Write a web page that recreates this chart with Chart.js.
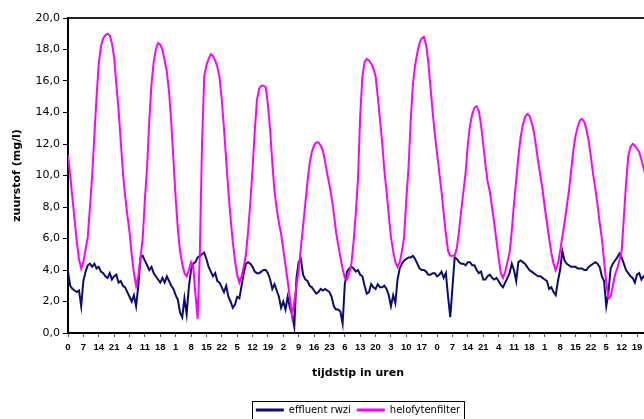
<!DOCTYPE html>
<html>
<head>
<meta charset="utf-8">
<script src="https://cdn.jsdelivr.net/npm/chart.js@4.4.1/dist/chart.umd.min.js"></script>
<style>
  html, body { margin: 0; padding: 0; background: #fff; overflow: hidden; }
  #wrap { position: relative; width: 648px; height: 425px; }
</style>
</head>
<body>
<div id="wrap"><canvas id="c"></canvas></div>
<script>
// hourly measurements, hour 0 .. 264
const effluentRwzi = [
  3.9,3.0,2.8,2.7,2.6,2.7,1.7,3.3,3.9,4.3,4.4,4.2,
  4.4,4.1,4.2,3.9,3.8,3.6,3.5,3.8,3.4,3.6,3.7,3.2,
  3.3,3.0,2.9,2.6,2.3,2.0,2.4,1.7,3.0,4.8,4.9,4.6,
  4.3,4.0,4.2,3.8,3.6,3.4,3.2,3.5,3.2,3.6,3.3,3.0,
  2.8,2.4,2.1,1.3,1.0,2.2,1.2,2.9,4.0,4.4,4.5,4.8,
  4.9,5.0,5.1,4.7,4.2,3.9,3.6,3.8,3.3,3.2,2.9,2.6,
  3.0,2.3,2.0,1.6,1.8,2.3,2.2,3.0,3.8,4.4,4.5,4.4,
  4.2,3.9,3.8,3.8,3.9,4.0,4.0,3.8,3.4,2.8,3.1,2.7,
  2.3,1.6,2.0,1.5,2.3,1.6,1.2,0.4,3.5,4.5,4.7,3.7,
  3.4,3.3,3.0,2.9,2.7,2.5,2.6,2.8,2.7,2.8,2.7,2.6,
  2.3,1.7,1.5,1.5,1.35,0.6,3.1,3.9,4.1,4.2,4.1,3.9,
  4.0,3.7,3.6,3.0,2.5,2.6,3.1,2.9,2.8,3.1,2.9,2.9,
  3.0,2.8,2.4,1.7,2.4,1.9,3.4,4.1,4.4,4.6,4.7,4.8,
  4.8,4.9,4.7,4.4,4.1,4.0,4.0,3.9,3.7,3.7,3.8,3.8,
  3.6,3.7,3.9,3.5,3.8,2.3,1.0,2.9,4.8,4.7,4.5,4.4,
  4.4,4.3,4.5,4.5,4.3,4.3,4.0,3.8,3.9,3.4,3.4,3.6,
  3.7,3.5,3.4,3.5,3.3,3.05,2.9,3.2,3.5,3.8,4.4,4.0,
  3.3,4.5,4.6,4.5,4.4,4.2,4.0,3.9,3.8,3.7,3.6,3.6,
  3.5,3.4,3.3,2.8,2.9,2.6,2.4,3.3,4.0,5.2,4.6,4.4,
  4.3,4.2,4.2,4.2,4.1,4.1,4.1,4.0,4.0,4.2,4.3,4.4,
  4.5,4.4,4.2,3.6,3.3,1.7,2.6,4.1,4.4,4.6,4.8,5.05,
  4.8,4.4,4.0,3.8,3.6,3.5,3.2,3.7,3.8,3.4,3.6,3.7,3.5
];
const helofytenfilter = [
  11.3,10.0,8.6,7.2,5.8,4.7,4.1,4.5,5.3,6.1,8.0,10.0,
  12.5,15.0,17.1,18.2,18.7,18.9,19.0,18.9,18.4,17.5,15.8,14.2,
  12.2,10.2,8.7,7.5,6.4,5.0,3.8,3.0,3.6,4.8,6.0,8.5,
  10.5,13.5,15.8,17.2,18.0,18.4,18.3,18.0,17.3,16.6,15.3,13.4,
  11.0,8.6,6.6,5.2,4.4,3.8,3.6,4.0,4.5,4.2,2.5,0.9,
  5.0,12.0,16.3,17.0,17.4,17.7,17.6,17.3,16.9,16.2,14.8,13.0,
  11.0,9.0,7.3,5.8,4.6,3.7,3.2,3.6,4.2,5.0,6.5,8.3,
  10.4,12.8,14.8,15.5,15.7,15.7,15.6,14.5,12.9,10.8,9.0,7.9,
  7.0,6.3,5.3,4.3,3.3,2.2,1.1,2.0,3.0,4.0,5.4,6.8,
  8.2,9.6,10.8,11.5,11.9,12.1,12.1,11.9,11.6,10.9,10.1,9.4,
  8.6,7.6,6.4,5.6,4.8,4.1,3.5,3.4,3.8,4.4,5.8,7.6,
  9.8,13.8,16.3,17.2,17.4,17.3,17.1,16.8,16.3,15.0,13.6,12.1,
  10.3,9.0,7.5,6.1,5.2,4.5,4.2,4.5,5.2,6.1,8.5,10.5,
  13.5,15.8,17.0,17.8,18.4,18.7,18.8,18.3,17.2,15.6,14.0,12.6,
  11.4,10.2,9.0,7.6,6.3,5.2,4.9,4.9,4.9,5.4,6.5,7.8,
  9.0,10.2,12.0,13.2,13.9,14.3,14.4,14.1,13.2,12.0,10.7,9.6,
  9.0,8.0,7.0,5.9,4.8,3.8,3.5,3.9,4.5,5.1,6.5,8.2,
  9.7,11.2,12.4,13.2,13.7,13.9,13.8,13.4,12.8,11.9,10.9,10.0,
  9.1,8.0,7.0,6.0,5.1,4.4,4.0,4.4,5.2,6.1,7.0,8.0,
  9.0,10.3,11.6,12.5,13.1,13.5,13.6,13.4,12.9,12.2,11.2,10.1,
  9.2,8.2,7.0,6.0,4.6,3.2,2.2,2.3,3.0,3.7,4.1,4.6,
  5.2,7.3,9.5,11.2,11.8,12.0,11.9,11.7,11.5,11.0,10.5,9.9,9.2
];
// x tick labels (hour of day), one every 7 hours
const xTickLabels = ['0','7','14','21','4','11','18','1','8','15','22','5','12','19',
  '2','9','16','23','6','13','20','3','10','17','0','7','14','21','4','11','18','1',
  '8','15','22','5','12','19'];
const xTickStep = 7;
const hourMax = 264;
const yTickLabels = ['0,0','2,0','4,0','6,0','8,0','10,0','12,0','14,0','16,0','18,0','20,0'];

const toPoints = arr => arr.map((v, i) => ({ x: i, y: v }));

const framePlugin = {
  id: 'framePlugin',
  afterLayout(chart) {
    const lg = chart.legend, ca = chart.chartArea;
    if (!lg) return;
    const shift = (ca.left + ca.right) / 2 - (lg.left + lg.right) / 2;
    lg.left += shift; lg.right += shift;
  },
  afterDraw(chart) {
    const ctx = chart.ctx, ca = chart.chartArea;
    ctx.save();
    ctx.strokeStyle = '#222';
    ctx.lineWidth = 2;
    ctx.beginPath();
    ctx.moveTo(ca.left, ca.top);
    ctx.lineTo(ca.right, ca.top);
    ctx.stroke();
    const lg = chart.legend;
    if (lg && lg.legendHitBoxes && lg.legendHitBoxes.length) {
      const hb = lg.legendHitBoxes;
      const l = hb[0].left - 4;
      const r = hb[hb.length - 1].left + hb[hb.length - 1].width + 4;
      const t = hb[0].top - 4;
      ctx.lineWidth = 1;
      ctx.strokeStyle = '#000';
      ctx.strokeRect(Math.round(l) + 0.5, Math.round(t) + 0.5, Math.round(r - l), 22);
    }
    ctx.restore();
  }
};

new Chart(document.getElementById('c'), {
  type: 'line',
  data: {
    datasets: [
      {
        label: 'effluent rwzi',
        data: toPoints(effluentRwzi),
        borderColor: '#0b0b78',
        backgroundColor: '#0b0b78',
        borderWidth: 2,
        pointRadius: 0,
        tension: 0,
        order: 1
      },
      {
        label: 'helofytenfilter',
        data: toPoints(helofytenfilter),
        borderColor: '#ff00ff',
        backgroundColor: '#ff00ff',
        borderWidth: 2,
        pointRadius: 0,
        tension: 0,
        order: 0
      }
    ]
  },
  options: {
    responsive: true,
    maintainAspectRatio: false,
    animation: false,
    parsing: false,
    layout: { padding: { top: 18, left: 0, right: 0, bottom: 0 } },
    plugins: {
      tooltip: { enabled: false },
      legend: {
        position: 'bottom',
        labels: {
          usePointStyle: true,
          pointStyle: 'line',
          pointStyleWidth: 28,
          padding: 6,
          color: '#000',
          font: { family: 'DejaVu Sans', size: 10 },
          sort: (a, b) => a.datasetIndex - b.datasetIndex,
          generateLabels(chart) {
            const items = Chart.defaults.plugins.legend.labels.generateLabels(chart);
            items.forEach(it => { it.lineWidth = 3; });
            return items;
          }
        }
      }
    },
    scales: {
      x: {
        type: 'linear',
        min: 0,
        max: hourMax,
        afterFit: s => { s.height = 66; },
        border: { display: true, color: '#000', width: 2 },
        grid: { drawOnChartArea: false, drawTicks: true, tickLength: 4, color: '#555' },
        ticks: {
          stepSize: xTickStep,
          includeBounds: false,
          autoSkip: false,
          maxRotation: 0,
          padding: 5,
          color: '#000',
          font: { family: 'Liberation Sans', size: 9.5, weight: 'bold' },
          callback: v => xTickLabels[Math.round(v / xTickStep)]
        },
        title: {
          display: true,
          text: 'tijdstip in uren',
          color: '#000',
          font: { family: 'DejaVu Sans', size: 11, weight: 'bold' },
          padding: { top: 0, bottom: 19 }
        }
      },
      y: {
        min: 0,
        max: 20,
        afterFit: s => { s.width = 68; },
        border: { display: true, color: '#000', width: 2 },
        grid: { drawOnChartArea: false, drawTicks: true, tickLength: 5, color: '#000' },
        ticks: {
          stepSize: 2,
          padding: 3,
          color: '#000',
          font: { family: 'DejaVu Sans', size: 11 },
          callback: (v, i) => yTickLabels[i]
        },
        title: {
          display: true,
          text: 'zuurstof (mg/l)',
          color: '#000',
          font: { family: 'DejaVu Sans', size: 11, weight: 'bold' },
          padding: { top: 11, bottom: 0 }
        }
      }
    }
  },
  plugins: [framePlugin]
});
</script>
</body>
</html>
